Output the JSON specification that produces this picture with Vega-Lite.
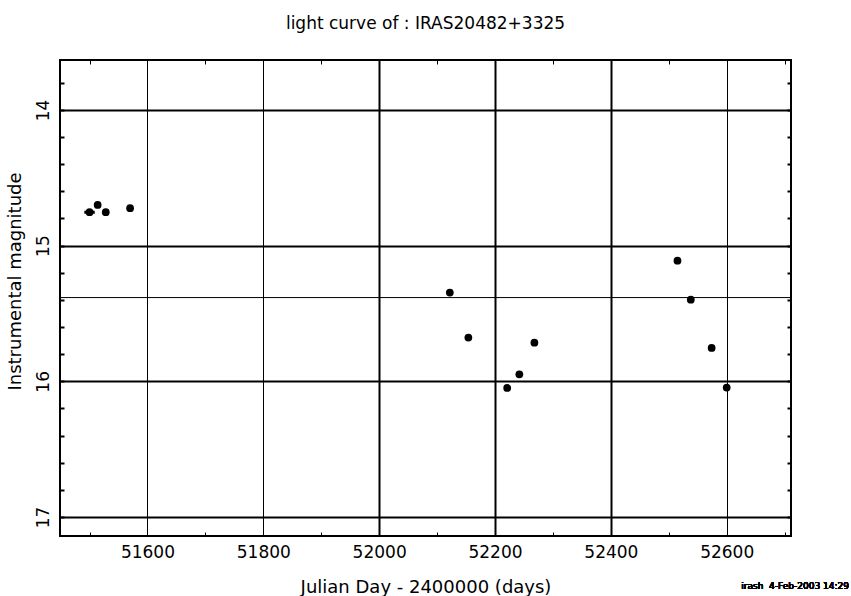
{
  "$schema": "https://vega.github.io/schema/vega-lite/v6.json",
  "width": 731,
  "height": 476,
  "autosize": {"type": "none"},
  "padding": {"left": 60, "top": 60, "right": 60, "bottom": 60},
  "background": "white",
  "title": {
    "text": "light curve of : IRAS20482+3325",
    "font": "DejaVu Sans",
    "fontSize": 17,
    "fontWeight": "normal",
    "color": "black",
    "anchor": "middle",
    "baseline": "alphabetic",
    "offset": 14
  },
  "config": {
    "view": {"stroke": "black", "strokeWidth": 2},
    "axis": {
      "labelFont": "DejaVu Sans",
      "labelFontSize": 17,
      "labelColor": "black",
      "titleFont": "DejaVu Sans",
      "titleFontSize": 18,
      "titleFontWeight": "normal",
      "titleColor": "black",
      "tickColor": "black",
      "gridColor": "black",
      "domain": false,
      "labelFlush": false,
      "labelOverlap": false
    }
  },
  "data": {
    "values": [
      {"jd": 51500, "mag": 14.754, "jd_lo": 51491, "jd_hi": 51509},
      {"jd": 51514, "mag": 14.700},
      {"jd": 51528, "mag": 14.754},
      {"jd": 51570, "mag": 14.724},
      {"jd": 52122, "mag": 15.346},
      {"jd": 52154, "mag": 15.678},
      {"jd": 52221, "mag": 16.049},
      {"jd": 52242, "mag": 15.948},
      {"jd": 52268, "mag": 15.715},
      {"jd": 52515, "mag": 15.111},
      {"jd": 52538, "mag": 15.398},
      {"jd": 52574, "mag": 15.754},
      {"jd": 52600, "mag": 16.046}
    ]
  },
  "layer": [
    {
      "mark": {"type": "rule", "color": "black", "strokeWidth": 1},
      "encoding": {
        "y": {
          "aggregate": "mean",
          "field": "mag",
          "type": "quantitative",
          "scale": {"domain": [13.632, 17.14], "reverse": true, "nice": false, "zero": false},
          "axis": {
            "orient": "right",
            "values": [13.8, 14, 14.2, 14.4, 14.6, 14.8, 15, 15.2, 15.4, 15.6, 15.8, 16, 16.2, 16.4, 16.6, 16.8, 17],
            "labels": false,
            "grid": false,
            "ticks": true,
            "tickSize": -4,
            "tickWidth": 2,
            "title": null
          }
        }
      }
    },
    {
      "transform": [{"filter": "isValid(datum.jd_lo)"}],
      "mark": {"type": "rule", "color": "black", "strokeWidth": 3},
      "encoding": {
        "x": {
          "field": "jd_lo",
          "type": "quantitative",
          "scale": {"domain": [51449, 52711], "nice": false, "zero": false},
          "axis": {
            "orient": "top",
            "values": [51500, 51600, 51700, 51800, 51900, 52000, 52100, 52200, 52300, 52400, 52500, 52600, 52700],
            "labels": false,
            "grid": false,
            "ticks": true,
            "tickSize": -4,
            "tickWidth": 1,
            "title": null
          }
        },
        "x2": {"field": "jd_hi"},
        "y": {"field": "mag", "type": "quantitative", "axis": null}
      }
    },
    {
      "mark": {"type": "point", "shape": "circle", "filled": true, "size": 60, "color": "black", "opacity": 1},
      "encoding": {
        "x": {
          "field": "jd",
          "type": "quantitative",
          "scale": {"domain": [51449, 52711], "nice": false, "zero": false},
          "axis": {
            "orient": "bottom",
            "values": [51500, 51600, 51700, 51800, 51900, 52000, 52100, 52200, 52300, 52400, 52500, 52600, 52700],
            "format": "d",
            "labelExpr": "datum.value % 200 == 0 ? datum.label : ''",
            "grid": true,
            "gridWidth": {"condition": {"test": "datum.value >= 52000 && datum.value <= 52400", "value": 2}, "value": 1},
            "gridOpacity": {"condition": {"test": "datum.value % 200 != 0", "value": 0}, "value": 1},
            "ticks": true,
            "tickSize": -4,
            "tickWidth": 1,
            "labelPadding": 12,
            "labelBaseline": "top",
            "title": "Julian Day - 2400000 (days)",
            "titleBaseline": "alphabetic",
            "titleY": 56
          }
        },
        "y": {
          "field": "mag",
          "type": "quantitative",
          "scale": {"domain": [13.632, 17.14], "reverse": true, "nice": false, "zero": false},
          "axis": {
            "orient": "left",
            "values": [13.8, 14, 14.2, 14.4, 14.6, 14.8, 15, 15.2, 15.4, 15.6, 15.8, 16, 16.2, 16.4, 16.6, 16.8, 17],
            "format": ".0f",
            "labelExpr": "abs(datum.value - round(datum.value)) < 0.001 ? datum.label : ''",
            "grid": true,
            "gridWidth": 2,
            "gridOpacity": {"condition": {"test": "abs(datum.value - round(datum.value)) > 0.001", "value": 0}, "value": 1},
            "ticks": true,
            "tickSize": -4,
            "tickWidth": 2,
            "labelAngle": -90,
            "labelAlign": "center",
            "labelBaseline": "alphabetic",
            "labelPadding": 16,
            "title": "Instrumental magnitude",
            "titleAngle": -90,
            "titleBaseline": "alphabetic",
            "titleAlign": "center",
            "titleX": -39.5,
            "titleY": 221
          }
        }
      }
    },
    {
      "mark": {"type": "text", "align": "right", "baseline": "alphabetic", "font": "DejaVu Sans", "fontSize": 9, "color": "black"},
      "encoding": {
        "x": {"datum": 52811, "type": "quantitative", "axis": null},
        "y": {"datum": 17.534, "type": "quantitative", "axis": null},
        "text": {"value": "irash\u00a0\u00a04-Feb-2003 14:29"}
      }
    }
  ],
  "resolve": {"axis": {"x": "independent", "y": "independent"}}
}
